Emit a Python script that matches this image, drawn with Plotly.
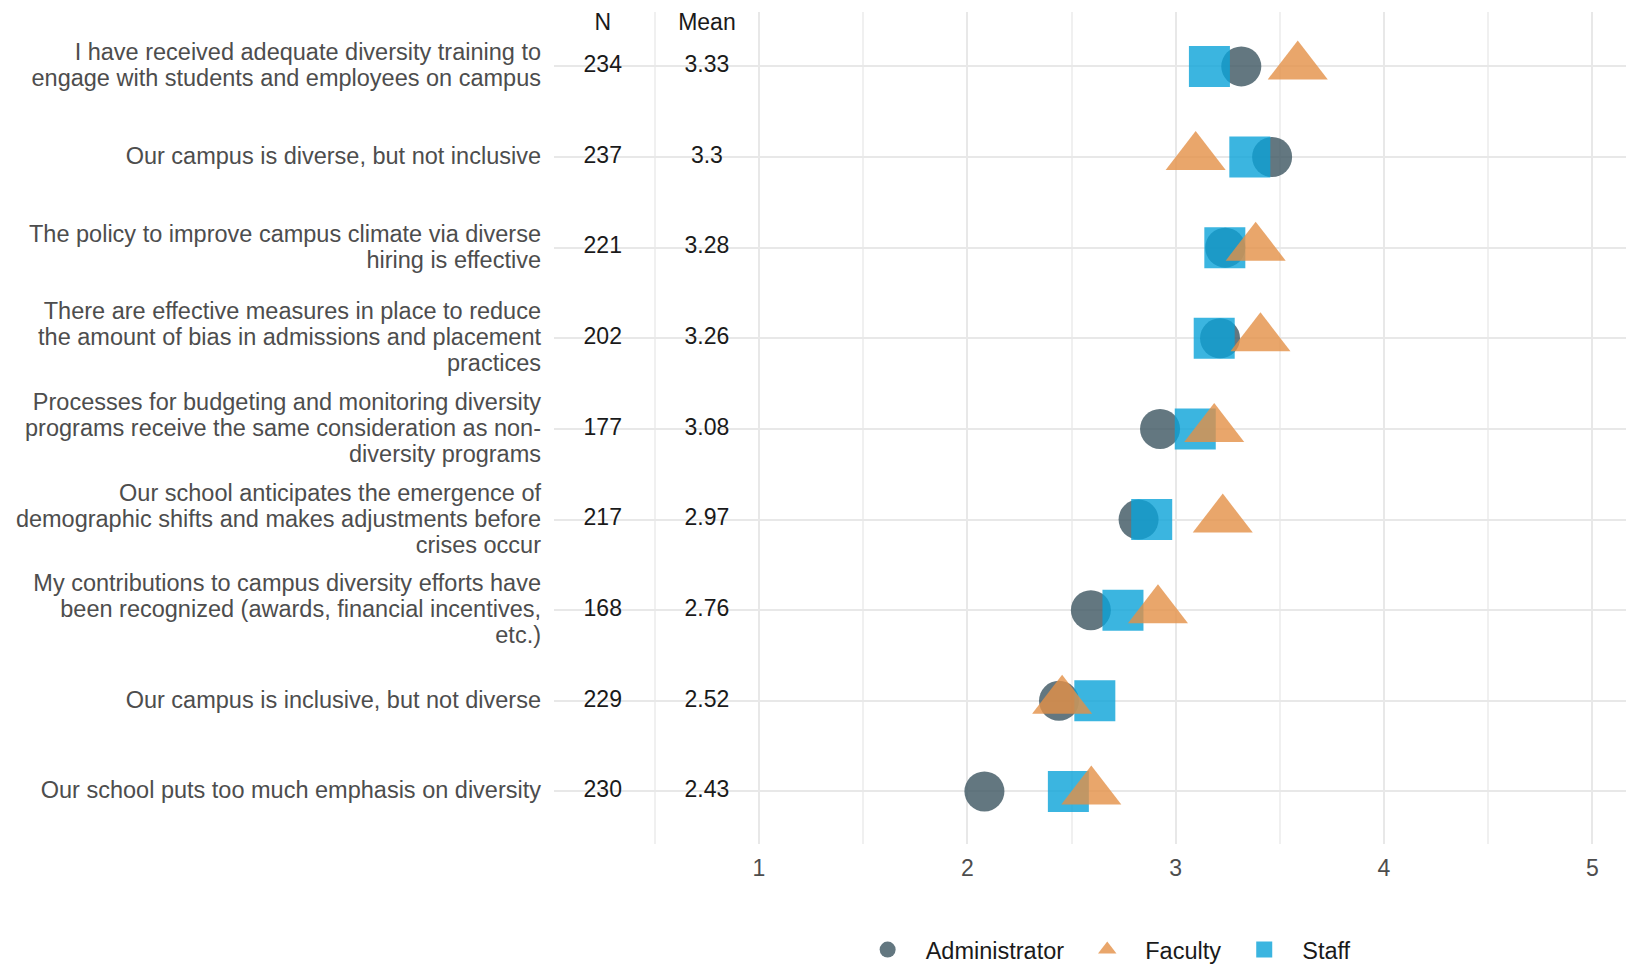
import plotly.graph_objects as go

questions = [
    ["I have received adequate diversity training to", "engage with students and employees on campus"],
    ["Our campus is diverse, but not inclusive"],
    ["The policy to improve campus climate via diverse", "hiring is effective"],
    ["There are effective measures in place to reduce", "the amount of bias in admissions and placement", "practices"],
    ["Processes for budgeting and monitoring diversity", "programs receive the same consideration as non-", "diversity programs"],
    ["Our school anticipates the emergence of", "demographic shifts and makes adjustments before", "crises occur"],
    ["My contributions to campus diversity efforts have", "been recognized (awards, financial incentives,", "etc.)"],
    ["Our campus is inclusive, but not diverse"],
    ["Our school puts too much emphasis on diversity"],
]
n_values = ["234", "237", "221", "202", "177", "217", "168", "229", "230"]
mean_values = ["3.33", "3.3", "3.28", "3.26", "3.08", "2.97", "2.76", "2.52", "2.43"]

administrator = [3.315, 3.463, 3.238, 3.213, 2.925, 2.822, 2.593, 2.44, 2.082]
faculty = [3.586, 3.096, 3.384, 3.407, 3.185, 3.226, 2.915, 2.455, 2.595]
staff = [3.162, 3.356, 3.236, 3.185, 3.094, 2.885, 2.747, 2.612, 2.485]

x_ticks = [1, 2, 3, 4, 5]
n_col_x = 0.25
mean_col_x = 0.75

ypos = list(range(len(questions), 0, -1))

FONT = "Liberation Sans, Arial, sans-serif"
FS = 23
LABEL_FS = 23.5
LINE_BASE = 20  # controls line spacing of wrapped labels

ticktext = ["<br>".join(f'<span style="font-size:{LABEL_FS}px">{ln}</span>' for ln in q)
            for q in questions]

fig = go.Figure()

fig.add_trace(go.Scatter(
    x=administrator, y=ypos, mode="markers", name="Administrator",
    marker=dict(symbol="circle", size=40, color="rgba(60,85,96,0.8)", line=dict(width=0)),
    legendrank=1,
))
fig.add_trace(go.Scatter(
    x=staff, y=ypos, mode="markers", name="Staff",
    marker=dict(symbol="square", size=41, color="rgba(10,162,216,0.8)", line=dict(width=0)),
    legendrank=3,
))
fig.add_trace(go.Scatter(
    x=faculty, y=ypos, mode="markers", name="Faculty",
    marker=dict(symbol="triangle-up", size=52, color="rgba(227,144,70,0.8)", line=dict(width=0)),
    legendrank=2,
))

# N and Mean columns
fig.add_trace(go.Scatter(
    x=[n_col_x] * len(n_values), y=ypos, mode="text", text=n_values, cliponaxis=False,
    textfont=dict(family=FONT, size=FS, color="#1a1a1a"), showlegend=False, hoverinfo="skip",
))
fig.add_trace(go.Scatter(
    x=[mean_col_x] * len(mean_values), y=ypos, mode="text", text=mean_values, cliponaxis=False,
    textfont=dict(family=FONT, size=FS, color="#1a1a1a"), showlegend=False, hoverinfo="skip",
))
fig.add_trace(go.Scatter(
    x=[n_col_x, mean_col_x], y=[len(questions) + 0.47] * 2, mode="text", text=["N", "Mean"],
    cliponaxis=False,
    textfont=dict(family=FONT, size=FS, color="#1a1a1a"), showlegend=False, hoverinfo="skip",
))

fig.update_layout(
    width=1626, height=961,
    margin=dict(l=546, r=0, t=4, b=125, autoexpand=False),
    paper_bgcolor="white", plot_bgcolor="white",
    font=dict(family=FONT, size=FS, color="#4d4d4d"),
    showlegend=True,
    legend=dict(
        orientation="h", x=0.508, xanchor="center",
        yref="container", y=0.02, yanchor="middle",
        font=dict(family=FONT, size=LABEL_FS, color="#1a1a1a"),
        itemsizing="trace", traceorder="normal", itemwidth=66,
    ),
    xaxis=dict(
        range=[0.016, 5.2], tickvals=x_ticks, ticktext=[str(v) for v in x_ticks],
        showgrid=True, gridcolor="#e8e8e8", gridwidth=2,
        minor=dict(dtick=0.5, tick0=0, showgrid=True, gridcolor="#f0f0f0", gridwidth=1.5),
        zeroline=False, showline=False, ticks="", ticklabelstandoff=8,
        tickfont=dict(family=FONT, size=FS, color="#4d4d4d"),
    ),
    yaxis=dict(
        range=[0.42, 9.6], tickvals=ypos, ticktext=ticktext,
        showgrid=True, gridcolor="#e8e8e8", gridwidth=2,
        zeroline=False, showline=False, ticks="", ticklabelstandoff=12,
        tickfont=dict(family=FONT, size=LINE_BASE, color="#4d4d4d"),
    ),
)

fig.write_html("out.html")
